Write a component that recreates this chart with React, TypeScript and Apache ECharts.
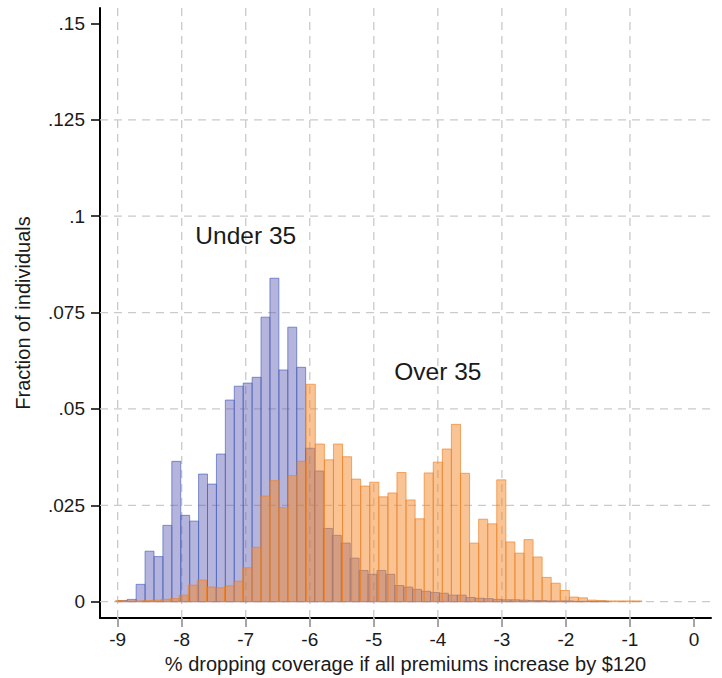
import { useEffect, useRef } from "react";
import * as echarts from "echarts";

// histogram bins (fraction of individuals per bin)
const under35Start = -8.99;
const under35Width = 0.1393;
const under35Fractions = [
  0.0003, 0.0006, 0.0045, 0.0131, 0.0117, 0.0198, 0.0364, 0.0224, 0.0209, 0.0331,
  0.0305, 0.0383, 0.0523, 0.0559, 0.0567, 0.0582, 0.0738, 0.0839, 0.0601, 0.0712,
  0.0608, 0.0398, 0.0339, 0.019, 0.0172, 0.0152, 0.0113, 0.0081, 0.0071, 0.0081,
  0.0071, 0.0042, 0.0038, 0.0032, 0.0027, 0.0024, 0.0022, 0.0017, 0.0017, 0.0011,
  0.0009, 0.0008, 0.0006, 0.0005, 0.0005, 0.0004, 0.0003, 0.0003, 0.0002, 0.0002,
  0.0002, 0.0001, 0.0001, 0.0001, 0.0001,
];

const over35Start = -9.031;
const over35Width = 0.1417;
const over35Fractions = [
  0.0003, 0.0002, 0.0002, 0.0003, 0.0004, 0.0006, 0.0008, 0.0017, 0.0043, 0.0056,
  0.0038, 0.0036, 0.0041, 0.0053, 0.0088, 0.0141, 0.0274, 0.0314, 0.0244, 0.0327,
  0.0364, 0.0564, 0.0409, 0.0368, 0.0409, 0.0376, 0.0318, 0.03, 0.031, 0.0272,
  0.0282, 0.0335, 0.0264, 0.0215, 0.0334, 0.0362, 0.0396, 0.046, 0.0333, 0.0152,
  0.0214, 0.0202, 0.0316, 0.0155, 0.0126, 0.0161, 0.0116, 0.0063, 0.0048, 0.0029,
  0.0012, 0.001, 0.0004, 0.0003, 0.0002, 0.0002, 0.0002, 0.0002,
];

// axes
const xTicks = [-9, -8, -7, -6, -5, -4, -3, -2, -1, 0];
const yTicks = [0, 0.025, 0.05, 0.075, 0.1, 0.125, 0.15];
const yTickLabels = ["0", ".025", ".05", ".075", ".1", ".125", ".15"];
const xGridValues = [-9, -8, -7, -6, -5, -4, -3, -2, -1];
const yGridValues = [0, 0.025, 0.05, 0.075, 0.1, 0.125];

// text placed in data space
const annotationLabels = ["Under 35", "Over 35"];
const annotationX = [-7, -4];
const annotationY = [0.095, 0.0597];

const FONT = "'Liberation Sans', Arial, Helvetica, sans-serif";
const TEXT = "#1a1a1a";

const toBins = (start: number, width: number, values: number[]) =>
  values.map((v, i) => [start + i * width, start + (i + 1) * width, v]);

const binRenderer =
  (fill: string, stroke: string) => (_params: any, api: any) => {
    const topLeft = api.coord([api.value(0), api.value(2)]);
    const bottomRight = api.coord([api.value(1), 0]);
    return {
      type: "rect",
      shape: {
        x: topLeft[0],
        y: topLeft[1],
        width: bottomRight[0] - topLeft[0],
        height: bottomRight[1] - topLeft[1],
      },
      style: { fill, stroke, lineWidth: 1 },
    };
  };

// dashed grid: item = [direction (0 vertical, 1 horizontal), value]
const gridRenderer = (params: any, api: any) => {
  const cs = params.coordSys;
  const horizontal = api.value(0) === 1;
  const v = api.value(1);
  const shape = horizontal
    ? { x1: cs.x, y1: api.coord([0, v])[1], x2: cs.x + cs.width, y2: api.coord([0, v])[1] }
    : { x1: api.coord([v, 0])[0], y1: cs.y, x2: api.coord([v, 0])[0], y2: cs.y + cs.height };
  return {
    type: "line",
    shape,
    style: { stroke: "#cacaca", lineWidth: 1.3, lineDash: [8, 6] },
  };
};

const App = () => {
  const chartRef = useRef<HTMLDivElement>(null);

  useEffect(() => {
    if (!chartRef.current) return;
    const chart = echarts.init(chartRef.current, undefined, { renderer: "svg" });

    const option: echarts.EChartsOption = {
      animation: false,
      backgroundColor: "#fff",
      grid: {
        left: 100,
        right: 11,
        top: 8,
        bottom: 60,
        containLabel: false,
        outerBoundsMode: "none",
      } as any,
      xAxis: {
        type: "value",
        min: -9.276,
        max: 0.266,
        name: "% dropping coverage if all premiums increase by $120",
        nameLocation: "middle",
        nameGap: 35,
        nameTextStyle: { fontFamily: FONT, fontSize: 20, color: TEXT },
        axisLine: { show: true, onZero: false, lineStyle: { color: "#000", width: 2 } },
        axisTick: {
          show: true,
          customValues: xTicks,
          length: 9,
          lineStyle: { color: "#a6a6a6", width: 2 },
        },
        axisLabel: {
          customValues: xTicks,
          fontFamily: FONT,
          fontSize: 19,
          color: TEXT,
          margin: 12,
        },
        splitLine: { show: false },
      } as any,
      yAxis: {
        type: "value",
        min: -0.00423,
        max: 0.154,
        name: "Fraction of individuals",
        nameLocation: "middle",
        nameGap: 67,
        nameTextStyle: { fontFamily: FONT, fontSize: 20, color: TEXT },
        axisLine: { show: true, onZero: false, lineStyle: { color: "#000", width: 2 } },
        axisTick: {
          show: true,
          customValues: yTicks,
          length: 9,
          lineStyle: { color: "#000", width: 1.5 },
        },
        axisLabel: {
          customValues: yTicks,
          fontFamily: FONT,
          fontSize: 19,
          color: TEXT,
          margin: 15,
          formatter: (v: number) => {
            const i = yTicks.findIndex((t) => Math.abs(t - v) < 1e-9);
            return i >= 0 ? yTickLabels[i] : String(v);
          },
        },
        splitLine: { show: false },
      } as any,
      series: [
        {
          type: "custom",
          z: 1,
          silent: true,
          renderItem: gridRenderer,
          encode: { x: 1 },
          data: [
            ...xGridValues.map((x) => [0, x]),
            ...yGridValues.map((y) => [1, y]),
          ],
        } as any,
        {
          type: "custom",
          name: "Under 35",
          z: 2,
          silent: true,
          renderItem: binRenderer("rgba(95,95,180,0.47)", "rgba(70,95,185,0.65)"),
          encode: { x: [0, 1], y: 2 },
          data: toBins(under35Start, under35Width, under35Fractions),
        },
        {
          type: "custom",
          name: "Over 35",
          z: 3,
          silent: true,
          renderItem: binRenderer("rgba(245,135,40,0.5)", "rgba(238,128,35,0.65)"),
          encode: { x: [0, 1], y: 2 },
          data: toBins(over35Start, over35Width, over35Fractions),
        },
        {
          type: "custom",
          z: 4,
          silent: true,
          renderItem: (params: any, api: any) => {
            const p = api.coord([api.value(0), api.value(1)]);
            return {
              type: "text",
              x: p[0],
              y: p[1],
              style: {
                text: annotationLabels[params.dataIndex],
                fontFamily: FONT,
                fontSize: 24.5,
                fill: TEXT,
                align: "center",
                verticalAlign: "middle",
              },
            };
          },
          encode: { x: 0, y: 1 },
          data: annotationX.map((x, i) => [x, annotationY[i]]),
        },
      ],
    };

    chart.setOption(option);

    return () => {
      chart.dispose();
    };
  }, []);

  return (
    <div
      ref={chartRef}
      style={{ position: "fixed", left: 0, top: 0, width: 722, height: 678 }}
    />
  );
};

export default App;
